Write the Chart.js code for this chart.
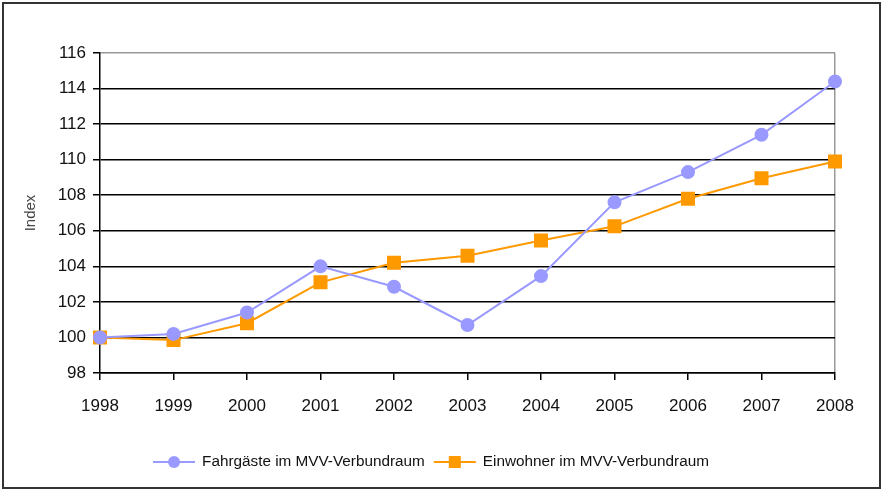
<!DOCTYPE html>
<html>
<head>
<meta charset="utf-8">
<script src="https://cdn.jsdelivr.net/npm/chart.js@4"></script>
<style>
  html, body { margin: 0; padding: 0; background: #fff; }
</style>
</head>
<body>
<canvas id="chart" width="883" height="490"></canvas>
<script>
// Jahre und Indexwerte (1998 = 100)
const years = ["1998", "1999", "2000", "2001", "2002", "2003", "2004", "2005", "2006", "2007", "2008"];
const fahrgaeste = [100, 100.2, 101.4, 104.0, 102.85, 100.7, 103.45, 107.6, 109.3, 111.4, 114.4];
const einwohner = [100, 99.85, 100.8, 103.1, 104.2, 104.6, 105.45, 106.25, 107.8, 108.95, 109.9];
const seriesNames = ["Fahrgäste im MVV-Verbundraum", "Einwohner im MVV-Verbundraum"];
const yMin = 98;
const yMax = 116;
const yStep = 2;

const FONT = "'Liberation Sans', Arial, sans-serif";

// Rahmen um das ganze Bild
const frame = {
  id: "frame",
  afterDraw(chart) {
    const c = chart.ctx;
    c.save();
    c.strokeStyle = "#333";
    c.lineWidth = 2;
    c.strokeRect(3, 3, 877, 485);
    c.restore();
  }
};

// Legende mit Linie + Marker wie im Original
const lineLegend = {
  id: "lineLegend",
  afterDraw(chart) {
    const c = chart.ctx;
    const y = 462;
    const sample = 42;
    const gapText = 7;
    const gapItem = 9;
    c.save();
    c.font = "15.3px " + FONT;
    c.textBaseline = "middle";
    let items = chart.data.datasets.map(ds => ({ ds, w: c.measureText(ds.label).width }));
    let total = items.reduce((s, it) => s + sample + gapText + it.w, 0) + gapItem * (items.length - 1);
    let x = 431 - total / 2;
    items.forEach(it => {
      const ds = it.ds;
      c.strokeStyle = ds.borderColor;
      c.lineWidth = 2;
      c.beginPath();
      c.moveTo(x, y);
      c.lineTo(x + sample, y);
      c.stroke();
      c.fillStyle = ds.pointBackgroundColor;
      if (ds.pointStyle === "rect") {
        c.fillRect(x + sample / 2 - 6, y - 6, 12, 12);
      } else {
        c.beginPath();
        c.arc(x + sample / 2, y, 6, 0, Math.PI * 2);
        c.fill();
      }
      c.fillStyle = "#111";
      c.fillText(ds.label, x + sample + gapText, y);
      x += sample + gapText + it.w + gapItem;
    });
    c.restore();
  }
};

new Chart(document.getElementById("chart"), {
  type: "line",
  data: {
    labels: years,
    datasets: [
      {
        label: seriesNames[0],
        data: fahrgaeste,
        borderColor: "#9999FF",
        backgroundColor: "#9999FF",
        pointBackgroundColor: "#9999FF",
        pointBorderColor: "#9999FF",
        pointStyle: "circle",
        pointRadius: 6,
        borderWidth: 2,
        tension: 0
      },
      {
        label: seriesNames[1],
        data: einwohner,
        borderColor: "#FF9900",
        backgroundColor: "#FF9900",
        pointBackgroundColor: "#FF9900",
        pointBorderColor: "#FF9900",
        pointStyle: "rect",
        pointRadius: 8.5,
        borderWidth: 2,
        tension: 0
      }
    ]
  },
  options: {
    responsive: false,
    animation: false,
    layout: { padding: { left: 22, top: 53, right: 48, bottom: 72 } },
    plugins: {
      legend: { display: false },
      tooltip: { enabled: false }
    },
    scales: {
      x: {
        offset: false,
        afterFit(scale) { scale.height = 45; },
        grid: {
          offset: false,
          drawOnChartArea: true,
          color: ctx => (ctx.index === years.length - 1 ? "#999" : "rgba(0,0,0,0)"),
          tickColor: "#000",
          tickLength: 7,
          lineWidth: 1.5
        },
        border: { display: true, color: "#000", width: 1.5 },
        ticks: {
          color: "#111",
          font: { family: FONT, size: 17 },
          padding: 16,
          maxRotation: 0,
          autoSkip: false
        }
      },
      y: {
        min: yMin,
        max: yMax,
        afterFit(scale) { scale.width = 78; },
        grid: {
          color: ctx => (ctx.tick && ctx.tick.value === yMax ? "#999" : "#000"),
          tickColor: "#000",
          tickLength: 7,
          lineWidth: 1.5
        },
        border: { display: true, color: "#000", width: 1.5 },
        ticks: {
          stepSize: yStep,
          color: "#111",
          font: { family: FONT, size: 17 },
          padding: 7
        },
        title: {
          display: true,
          text: "Index",
          color: "#444",
          font: { family: FONT, size: 15 },
          padding: 0
        }
      }
    }
  },
  plugins: [frame, lineLegend]
});
</script>
</body>
</html>
